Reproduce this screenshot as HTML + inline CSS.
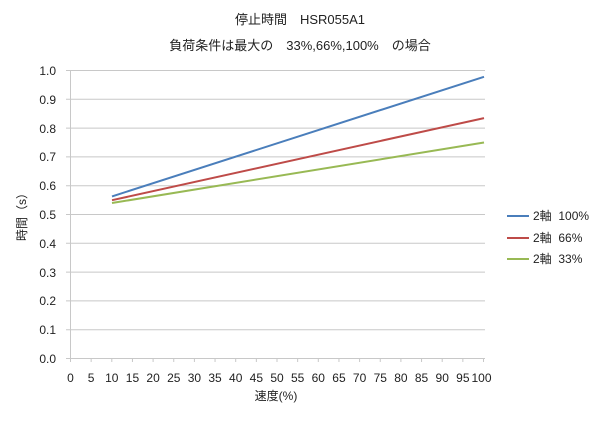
<!DOCTYPE html>
<html><head><meta charset="utf-8"><style>
body{margin:0;background:#fff;}
svg text{font-family:"Liberation Sans","Noto Sans CJK JP",sans-serif;fill:#222;white-space:pre;}
</style></head><body>
<svg width="600" height="416" xmlns="http://www.w3.org/2000/svg">
<rect width="600" height="416" fill="#fff"/>
<text x="300" y="24" font-size="13" text-anchor="middle">停止時間　HSR055A1</text>
<text x="300" y="50" font-size="13" text-anchor="middle">負荷条件は最大の　33%,66%,100%　の場合</text>
<g stroke="#c8c8c8" stroke-width="1">
<line x1="66" x2="485" y1="70.5" y2="70.5"/>
<line x1="66" x2="485" y1="99.3" y2="99.3"/>
<line x1="66" x2="485" y1="128.1" y2="128.1"/>
<line x1="66" x2="485" y1="156.9" y2="156.9"/>
<line x1="66" x2="485" y1="185.7" y2="185.7"/>
<line x1="66" x2="485" y1="214.5" y2="214.5"/>
<line x1="66" x2="485" y1="243.3" y2="243.3"/>
<line x1="66" x2="485" y1="272.1" y2="272.1"/>
<line x1="66" x2="485" y1="300.9" y2="300.9"/>
<line x1="66" x2="485" y1="329.7" y2="329.7"/>
<line x1="66" x2="485" y1="358.5" y2="358.5"/>
<line x1="70.5" x2="70.5" y1="70" y2="362"/>
</g>
<g stroke="#c8c8c8" id="ticks"></g>
<g font-size="12" text-anchor="end">
<text x="56" y="75">1.0</text><text x="56" y="104">0.9</text><text x="56" y="133">0.8</text>
<text x="56" y="161">0.7</text><text x="56" y="190">0.6</text><text x="56" y="219">0.5</text>
<text x="56" y="248">0.4</text><text x="56" y="277">0.3</text><text x="56" y="305">0.2</text>
<text x="56" y="334">0.1</text><text x="56" y="363">0.0</text>
</g>
<g font-size="12" text-anchor="middle" id="xl"></g>
<text x="276" y="400" font-size="12" text-anchor="middle">速度(%)</text>
<text transform="translate(26,214) rotate(-90)" font-size="12" text-anchor="middle">時間（s）</text>
<polyline points="112,196.4 484,76.8" stroke="#4a7ebb" stroke-width="2" fill="none"/>
<polyline points="112,200.2 484,118.1" stroke="#be4b48" stroke-width="2" fill="none"/>
<polyline points="112,203 484,142.5" stroke="#98b954" stroke-width="2" fill="none"/>
<g font-size="12">
<line x1="507" x2="529" y1="216" y2="216" stroke="#4a7ebb" stroke-width="2"/><text x="533" y="220">2軸  100%</text>
<line x1="507" x2="529" y1="238" y2="238" stroke="#be4b48" stroke-width="2"/><text x="533" y="242">2軸  66%</text>
<line x1="507" x2="529" y1="259" y2="259" stroke="#98b954" stroke-width="2"/><text x="533" y="263">2軸  33%</text>
</g>
<script>
var t=document.getElementById('ticks'),xl=document.getElementById('xl'),ns="http://www.w3.org/2000/svg";
for(var i=0;i<=20;i++){var x=70.5+i*20.65;
var l=document.createElementNS(ns,'line');l.setAttribute('x1',x);l.setAttribute('x2',x);l.setAttribute('y1',358);l.setAttribute('y2',362);t.appendChild(l);
var s=document.createElementNS(ns,'text');s.setAttribute('x',i==20?x-2:x);s.setAttribute('y',382);s.textContent=i*5;xl.appendChild(s);}
</script>
</svg>
</body></html>
